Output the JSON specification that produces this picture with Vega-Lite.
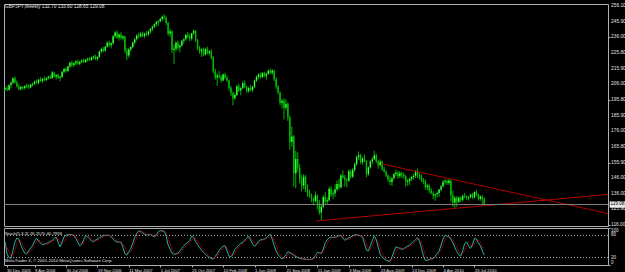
{
"$schema": "https://vega.github.io/schema/vega-lite/v6.json",
"background": "#000000",
"padding": {"left": 2, "top": 2, "right": 0, "bottom": 0},
"spacing": 2,
"bounds": "flush",
"config": {
  "view": {"stroke": "#b0b0b0", "strokeWidth": 1},
  "axis": {"labelColor": "#e0e0e0", "labelFont": "Liberation Sans", "labelFontSize": 4.8, "tickColor": "#b0b0b0", "tickSize": 2, "domain": false, "grid": false, "labelPadding": 1, "labelOverlap": false},
  "scale": {"continuousPadding": 0},
  "text": {"font": "Liberation Sans"}
},
"datasets": {
"bars": [
{"d":"2005-12-25","o":203.0,"h":204.5,"l":201.8,"c":203.5,"k":62,"s":55},
{"d":"2006-01-01","o":203.5,"h":205.0,"l":201.5,"c":202.3,"k":30,"s":46},
{"d":"2006-01-08","o":202.3,"h":206.0,"l":202.0,"c":205.5,"k":20,"s":37},
{"d":"2006-01-15","o":205.5,"h":208.0,"l":203.5,"c":207.0,"k":18,"s":23},
{"d":"2006-01-22","o":207.0,"h":210.5,"l":206.0,"c":209.8,"k":40,"s":26},
{"d":"2006-01-29","o":209.8,"h":211.0,"l":206.5,"c":207.2,"k":62,"s":40},
{"d":"2006-02-05","o":207.2,"h":208.5,"l":204.0,"c":204.8,"k":73,"s":58},
{"d":"2006-02-12","o":204.8,"h":206.0,"l":202.0,"c":203.0,"k":70,"s":68},
{"d":"2006-02-19","o":203.0,"h":205.0,"l":202.0,"c":204.2,"k":54,"s":66},
{"d":"2006-02-26","o":204.2,"h":205.0,"l":202.5,"c":203.6,"k":42,"s":55},
{"d":"2006-03-05","o":203.6,"h":205.5,"l":202.5,"c":204.8,"k":32,"s":43},
{"d":"2006-03-12","o":204.8,"h":206.5,"l":203.5,"c":205.2,"k":30,"s":35},
{"d":"2006-03-19","o":205.2,"h":206.0,"l":203.0,"c":204.0,"k":38,"s":33},
{"d":"2006-03-26","o":204.0,"h":206.2,"l":203.5,"c":205.9,"k":46,"s":38},
{"d":"2006-04-02","o":205.9,"h":207.0,"l":204.5,"c":206.5,"k":53,"s":46},
{"d":"2006-04-09","o":206.5,"h":208.5,"l":205.5,"c":207.8,"k":65,"s":55},
{"d":"2006-04-16","o":207.8,"h":209.0,"l":206.0,"c":206.9,"k":72,"s":63},
{"d":"2006-04-23","o":206.9,"h":209.5,"l":206.0,"c":209.0,"k":65,"s":67},
{"d":"2006-04-30","o":209.0,"h":210.5,"l":207.5,"c":208.2,"k":59,"s":65},
{"d":"2006-05-07","o":208.2,"h":210.0,"l":207.0,"c":209.5,"k":55,"s":60},
{"d":"2006-05-14","o":209.5,"h":211.0,"l":207.8,"c":208.7,"k":56,"s":57},
{"d":"2006-05-21","o":208.7,"h":210.5,"l":208.0,"c":210.0,"k":58,"s":56},
{"d":"2006-05-28","o":210.0,"h":211.5,"l":209.0,"c":210.8,"k":61,"s":58},
{"d":"2006-06-04","o":210.8,"h":212.0,"l":209.5,"c":209.9,"k":63,"s":61},
{"d":"2006-06-11","o":209.9,"h":214.5,"l":209.5,"c":213.6,"k":67,"s":64},
{"d":"2006-06-18","o":213.6,"h":214.0,"l":210.5,"c":211.0,"k":72,"s":67},
{"d":"2006-06-25","o":211.0,"h":212.5,"l":209.0,"c":212.0,"k":75,"s":71},
{"d":"2006-07-02","o":212.0,"h":213.0,"l":209.5,"c":210.2,"k":62,"s":70},
{"d":"2006-07-09","o":210.2,"h":211.5,"l":208.0,"c":210.8,"k":49,"s":62},
{"d":"2006-07-16","o":210.8,"h":214.5,"l":210.0,"c":214.0,"k":62,"s":58},
{"d":"2006-07-23","o":214.0,"h":216.5,"l":213.0,"c":215.8,"k":76,"s":62},
{"d":"2006-07-30","o":215.8,"h":217.0,"l":213.5,"c":214.5,"k":81,"s":73},
{"d":"2006-08-06","o":214.5,"h":218.0,"l":214.0,"c":217.4,"k":82,"s":80},
{"d":"2006-08-13","o":217.4,"h":220.5,"l":216.5,"c":219.8,"k":83,"s":82},
{"d":"2006-08-20","o":219.8,"h":221.0,"l":217.0,"c":218.4,"k":82,"s":82},
{"d":"2006-08-27","o":218.4,"h":220.0,"l":217.0,"c":219.4,"k":80,"s":82},
{"d":"2006-09-03","o":219.4,"h":221.5,"l":218.0,"c":220.6,"k":72,"s":78},
{"d":"2006-09-10","o":220.6,"h":221.8,"l":218.5,"c":219.2,"k":62,"s":71},
{"d":"2006-09-17","o":219.2,"h":221.0,"l":218.0,"c":220.5,"k":52,"s":62},
{"d":"2006-09-24","o":220.5,"h":222.0,"l":219.5,"c":221.3,"k":56,"s":57},
{"d":"2006-10-01","o":221.3,"h":222.5,"l":219.5,"c":220.2,"k":68,"s":59},
{"d":"2006-10-08","o":220.2,"h":222.3,"l":219.8,"c":221.8,"k":80,"s":68},
{"d":"2006-10-15","o":221.8,"h":223.0,"l":220.5,"c":222.4,"k":76,"s":75},
{"d":"2006-10-22","o":222.4,"h":223.5,"l":221.0,"c":221.6,"k":71,"s":76},
{"d":"2006-10-29","o":221.6,"h":223.8,"l":221.0,"c":223.2,"k":65,"s":71},
{"d":"2006-11-05","o":223.2,"h":224.5,"l":222.0,"c":223.8,"k":63,"s":66},
{"d":"2006-11-12","o":223.8,"h":225.0,"l":221.5,"c":222.2,"k":67,"s":65},
{"d":"2006-11-19","o":222.2,"h":224.0,"l":221.0,"c":223.5,"k":70,"s":67},
{"d":"2006-11-26","o":223.5,"h":227.5,"l":223.0,"c":227.0,"k":74,"s":70},
{"d":"2006-12-03","o":227.0,"h":229.5,"l":226.0,"c":228.6,"k":77,"s":74},
{"d":"2006-12-10","o":228.6,"h":230.0,"l":226.5,"c":227.4,"k":80,"s":77},
{"d":"2006-12-17","o":227.4,"h":230.5,"l":227.0,"c":230.0,"k":80,"s":79},
{"d":"2006-12-24","o":230.0,"h":233.5,"l":229.5,"c":232.6,"k":80,"s":80},
{"d":"2006-12-31","o":232.6,"h":234.0,"l":230.0,"c":231.0,"k":80,"s":80},
{"d":"2007-01-07","o":231.0,"h":233.0,"l":229.0,"c":232.2,"k":76,"s":79},
{"d":"2007-01-14","o":232.2,"h":237.5,"l":231.5,"c":236.8,"k":70,"s":75},
{"d":"2007-01-21","o":236.8,"h":240.0,"l":235.5,"c":239.2,"k":65,"s":70},
{"d":"2007-01-28","o":239.2,"h":240.5,"l":235.0,"c":236.0,"k":62,"s":66},
{"d":"2007-02-04","o":236.0,"h":238.5,"l":234.0,"c":237.8,"k":62,"s":63},
{"d":"2007-02-11","o":237.8,"h":239.5,"l":234.5,"c":235.4,"k":62,"s":62},
{"d":"2007-02-18","o":235.4,"h":237.5,"l":234.0,"c":236.6,"k":48,"s":57},
{"d":"2007-02-25","o":236.6,"h":237.0,"l":226.0,"c":227.5,"k":30,"s":47},
{"d":"2007-03-04","o":227.5,"h":229.0,"l":221.5,"c":224.5,"k":27,"s":35},
{"d":"2007-03-11","o":224.5,"h":229.5,"l":223.0,"c":228.4,"k":36,"s":31},
{"d":"2007-03-18","o":228.4,"h":230.5,"l":227.0,"c":229.8,"k":45,"s":36},
{"d":"2007-03-25","o":229.8,"h":233.5,"l":229.0,"c":232.8,"k":59,"s":47},
{"d":"2007-04-01","o":232.8,"h":235.5,"l":231.5,"c":234.9,"k":75,"s":60},
{"d":"2007-04-08","o":234.9,"h":238.0,"l":234.0,"c":237.2,"k":86,"s":73},
{"d":"2007-04-15","o":237.2,"h":239.0,"l":235.5,"c":236.6,"k":92,"s":84},
{"d":"2007-04-22","o":236.6,"h":239.5,"l":236.0,"c":238.4,"k":91,"s":90},
{"d":"2007-04-29","o":238.4,"h":239.8,"l":236.0,"c":237.0,"k":87,"s":90},
{"d":"2007-05-06","o":237.0,"h":239.0,"l":235.5,"c":238.6,"k":83,"s":87},
{"d":"2007-05-13","o":238.6,"h":240.0,"l":237.0,"c":237.9,"k":81,"s":84},
{"d":"2007-05-20","o":237.9,"h":240.5,"l":237.0,"c":239.8,"k":82,"s":82},
{"d":"2007-05-27","o":239.8,"h":242.0,"l":238.5,"c":241.5,"k":83,"s":82},
{"d":"2007-06-03","o":241.5,"h":243.5,"l":240.0,"c":242.8,"k":79,"s":81},
{"d":"2007-06-10","o":242.8,"h":245.0,"l":242.0,"c":244.4,"k":76,"s":79},
{"d":"2007-06-17","o":244.4,"h":246.5,"l":243.0,"c":245.9,"k":82,"s":79},
{"d":"2007-06-24","o":245.9,"h":247.0,"l":243.5,"c":246.5,"k":90,"s":83},
{"d":"2007-07-01","o":246.5,"h":248.5,"l":245.5,"c":247.8,"k":93,"s":88},
{"d":"2007-07-08","o":247.8,"h":250.0,"l":246.5,"c":249.2,"k":92,"s":92},
{"d":"2007-07-15","o":249.2,"h":251.0,"l":247.5,"c":248.4,"k":91,"s":92},
{"d":"2007-07-22","o":248.4,"h":250.0,"l":244.0,"c":245.2,"k":78,"s":87},
{"d":"2007-07-29","o":245.2,"h":246.0,"l":237.0,"c":238.4,"k":54,"s":74},
{"d":"2007-08-05","o":238.4,"h":241.5,"l":236.5,"c":240.0,"k":43,"s":58},
{"d":"2007-08-12","o":240.0,"h":240.5,"l":226.0,"c":228.0,"k":32,"s":43},
{"d":"2007-08-19","o":228.0,"h":231.5,"l":219.0,"c":228.8,"k":29,"s":35},
{"d":"2007-08-26","o":228.8,"h":233.5,"l":227.0,"c":232.6,"k":30,"s":30},
{"d":"2007-09-02","o":232.6,"h":234.0,"l":228.0,"c":229.5,"k":32,"s":30},
{"d":"2007-09-09","o":229.5,"h":231.5,"l":226.5,"c":230.8,"k":38,"s":33},
{"d":"2007-09-16","o":230.8,"h":234.5,"l":230.0,"c":233.9,"k":45,"s":38},
{"d":"2007-09-23","o":233.9,"h":235.5,"l":232.0,"c":234.8,"k":52,"s":45},
{"d":"2007-09-30","o":234.8,"h":238.5,"l":234.0,"c":237.6,"k":57,"s":51},
{"d":"2007-10-07","o":237.6,"h":239.5,"l":235.5,"c":236.4,"k":61,"s":57},
{"d":"2007-10-14","o":236.4,"h":238.5,"l":233.5,"c":235.2,"k":66,"s":61},
{"d":"2007-10-21","o":235.2,"h":239.0,"l":234.0,"c":238.6,"k":78,"s":68},
{"d":"2007-10-28","o":238.6,"h":241.0,"l":237.5,"c":240.2,"k":75,"s":73},
{"d":"2007-11-04","o":240.2,"h":240.8,"l":233.0,"c":234.2,"k":63,"s":72},
{"d":"2007-11-11","o":234.2,"h":235.0,"l":228.0,"c":229.0,"k":55,"s":64},
{"d":"2007-11-18","o":229.0,"h":230.5,"l":225.5,"c":227.2,"k":47,"s":55},
{"d":"2007-11-25","o":227.2,"h":229.0,"l":223.5,"c":228.4,"k":40,"s":47},
{"d":"2007-12-02","o":228.4,"h":229.5,"l":224.0,"c":225.0,"k":34,"s":40},
{"d":"2007-12-09","o":225.0,"h":229.5,"l":224.5,"c":228.6,"k":29,"s":34},
{"d":"2007-12-16","o":228.6,"h":230.0,"l":225.0,"c":226.0,"k":24,"s":29},
{"d":"2007-12-23","o":226.0,"h":228.0,"l":224.5,"c":227.0,"k":20,"s":24},
{"d":"2007-12-30","o":227.0,"h":228.5,"l":222.0,"c":223.0,"k":17,"s":20},
{"d":"2008-01-06","o":223.0,"h":224.0,"l":213.0,"c":214.2,"k":16,"s":18},
{"d":"2008-01-13","o":214.2,"h":216.0,"l":209.0,"c":210.4,"k":23,"s":19},
{"d":"2008-01-20","o":210.4,"h":213.0,"l":205.0,"c":211.6,"k":31,"s":23},
{"d":"2008-01-27","o":211.6,"h":214.5,"l":209.5,"c":210.8,"k":39,"s":31},
{"d":"2008-02-03","o":210.8,"h":212.0,"l":207.0,"c":208.5,"k":46,"s":39},
{"d":"2008-02-10","o":208.5,"h":213.0,"l":208.0,"c":212.2,"k":51,"s":45},
{"d":"2008-02-17","o":212.2,"h":213.5,"l":209.5,"c":210.2,"k":52,"s":50},
{"d":"2008-02-24","o":210.2,"h":211.5,"l":207.5,"c":208.4,"k":38,"s":47},
{"d":"2008-03-02","o":208.4,"h":209.0,"l":202.0,"c":203.6,"k":24,"s":38},
{"d":"2008-03-09","o":203.6,"h":205.0,"l":198.5,"c":200.2,"k":22,"s":28},
{"d":"2008-03-16","o":200.2,"h":201.5,"l":192.5,"c":197.0,"k":30,"s":25},
{"d":"2008-03-23","o":197.0,"h":200.5,"l":196.0,"c":199.2,"k":42,"s":31},
{"d":"2008-03-30","o":199.2,"h":205.5,"l":198.5,"c":204.8,"k":48,"s":40},
{"d":"2008-04-06","o":204.8,"h":206.5,"l":201.0,"c":202.0,"k":53,"s":48},
{"d":"2008-04-13","o":202.0,"h":204.5,"l":199.0,"c":203.5,"k":59,"s":53},
{"d":"2008-04-20","o":203.5,"h":208.0,"l":203.0,"c":206.9,"k":62,"s":58},
{"d":"2008-04-27","o":206.9,"h":208.5,"l":203.5,"c":204.4,"k":67,"s":63},
{"d":"2008-05-04","o":204.4,"h":205.0,"l":200.5,"c":201.6,"k":72,"s":67},
{"d":"2008-05-11","o":201.6,"h":204.5,"l":200.5,"c":203.6,"k":78,"s":72},
{"d":"2008-05-18","o":203.6,"h":205.5,"l":201.5,"c":202.4,"k":68,"s":73},
{"d":"2008-05-25","o":202.4,"h":205.0,"l":201.0,"c":204.6,"k":56,"s":67},
{"d":"2008-06-01","o":204.6,"h":209.0,"l":203.5,"c":208.4,"k":50,"s":58},
{"d":"2008-06-08","o":208.4,"h":211.5,"l":207.5,"c":210.8,"k":56,"s":54},
{"d":"2008-06-15","o":210.8,"h":213.0,"l":209.0,"c":212.2,"k":64,"s":57},
{"d":"2008-06-22","o":212.2,"h":213.5,"l":209.5,"c":210.6,"k":68,"s":63},
{"d":"2008-06-29","o":210.6,"h":214.0,"l":210.0,"c":213.2,"k":69,"s":67},
{"d":"2008-07-06","o":213.2,"h":214.0,"l":210.5,"c":211.4,"k":70,"s":69},
{"d":"2008-07-13","o":211.4,"h":213.5,"l":209.0,"c":212.8,"k":74,"s":71},
{"d":"2008-07-20","o":212.8,"h":215.5,"l":212.0,"c":214.6,"k":79,"s":74},
{"d":"2008-07-27","o":214.6,"h":216.0,"l":212.5,"c":213.4,"k":83,"s":79},
{"d":"2008-08-03","o":213.4,"h":215.8,"l":212.0,"c":214.8,"k":70,"s":77},
{"d":"2008-08-10","o":214.8,"h":215.0,"l":208.0,"c":209.2,"k":52,"s":68},
{"d":"2008-08-17","o":209.2,"h":210.5,"l":203.0,"c":204.6,"k":38,"s":53},
{"d":"2008-08-24","o":204.6,"h":205.5,"l":199.5,"c":200.8,"k":28,"s":39},
{"d":"2008-08-31","o":200.8,"h":201.5,"l":192.5,"c":194.2,"k":22,"s":29},
{"d":"2008-09-07","o":194.2,"h":196.5,"l":190.5,"c":195.4,"k":16,"s":22},
{"d":"2008-09-14","o":195.4,"h":197.0,"l":183.5,"c":191.0,"k":20,"s":19},
{"d":"2008-09-21","o":191.0,"h":196.5,"l":189.5,"c":193.6,"k":28,"s":21},
{"d":"2008-09-28","o":193.6,"h":194.5,"l":182.5,"c":184.8,"k":36,"s":28},
{"d":"2008-10-05","o":184.8,"h":186.0,"l":164.0,"c":169.0,"k":33,"s":32},
{"d":"2008-10-12","o":169.0,"h":179.0,"l":166.0,"c":172.6,"k":30,"s":33},
{"d":"2008-10-19","o":172.6,"h":173.5,"l":140.5,"c":149.0,"k":26,"s":30},
{"d":"2008-10-26","o":149.0,"h":163.5,"l":139.5,"c":158.2,"k":23,"s":26},
{"d":"2008-11-02","o":158.2,"h":162.5,"l":150.0,"c":152.4,"k":20,"s":23},
{"d":"2008-11-09","o":152.4,"h":155.0,"l":142.5,"c":145.0,"k":18,"s":20},
{"d":"2008-11-16","o":145.0,"h":148.0,"l":137.5,"c":141.2,"k":17,"s":18},
{"d":"2008-11-23","o":141.2,"h":148.5,"l":139.0,"c":146.8,"k":16,"s":17},
{"d":"2008-11-30","o":146.8,"h":148.0,"l":137.0,"c":138.8,"k":15,"s":16},
{"d":"2008-12-07","o":138.8,"h":142.0,"l":134.0,"c":136.4,"k":15,"s":15},
{"d":"2008-12-14","o":136.4,"h":138.5,"l":133.5,"c":135.0,"k":15,"s":15},
{"d":"2008-12-21","o":135.0,"h":136.0,"l":130.5,"c":132.8,"k":15,"s":15},
{"d":"2008-12-28","o":132.8,"h":133.5,"l":128.5,"c":131.4,"k":18,"s":16},
{"d":"2009-01-04","o":131.4,"h":137.5,"l":130.5,"c":134.8,"k":26,"s":20},
{"d":"2009-01-11","o":134.8,"h":135.5,"l":126.0,"c":130.2,"k":34,"s":26},
{"d":"2009-01-18","o":130.2,"h":132.0,"l":122.5,"c":124.0,"k":33,"s":31},
{"d":"2009-01-25","o":124.0,"h":129.0,"l":118.9,"c":127.6,"k":31,"s":33},
{"d":"2009-02-01","o":127.6,"h":135.0,"l":126.5,"c":133.8,"k":42,"s":35},
{"d":"2009-02-08","o":133.8,"h":137.0,"l":129.5,"c":131.0,"k":60,"s":44},
{"d":"2009-02-15","o":131.0,"h":133.5,"l":129.0,"c":131.8,"k":68,"s":57},
{"d":"2009-02-22","o":131.8,"h":140.5,"l":131.0,"c":139.2,"k":74,"s":67},
{"d":"2009-03-01","o":139.2,"h":141.0,"l":134.0,"c":135.6,"k":75,"s":72},
{"d":"2009-03-08","o":135.6,"h":138.0,"l":132.5,"c":136.2,"k":75,"s":75},
{"d":"2009-03-15","o":136.2,"h":142.0,"l":134.0,"c":138.8,"k":75,"s":75},
{"d":"2009-03-22","o":138.8,"h":144.5,"l":137.5,"c":142.2,"k":77,"s":76},
{"d":"2009-03-29","o":142.2,"h":145.5,"l":138.5,"c":140.0,"k":79,"s":77},
{"d":"2009-04-05","o":140.0,"h":148.5,"l":139.5,"c":147.6,"k":80,"s":79},
{"d":"2009-04-12","o":147.6,"h":151.0,"l":145.5,"c":146.4,"k":72,"s":77},
{"d":"2009-04-19","o":146.4,"h":148.0,"l":140.5,"c":144.8,"k":67,"s":73},
{"d":"2009-04-26","o":144.8,"h":146.0,"l":140.0,"c":144.2,"k":70,"s":70},
{"d":"2009-05-03","o":144.2,"h":151.5,"l":143.5,"c":150.4,"k":73,"s":70},
{"d":"2009-05-10","o":150.4,"h":151.5,"l":145.5,"c":146.8,"k":76,"s":73},
{"d":"2009-05-17","o":146.8,"h":152.5,"l":146.0,"c":151.2,"k":79,"s":76},
{"d":"2009-05-24","o":151.2,"h":156.0,"l":150.0,"c":154.8,"k":82,"s":79},
{"d":"2009-05-31","o":154.8,"h":160.5,"l":154.0,"c":159.4,"k":82,"s":81},
{"d":"2009-06-07","o":159.4,"h":163.0,"l":157.5,"c":160.6,"k":80,"s":81},
{"d":"2009-06-14","o":160.6,"h":161.5,"l":155.0,"c":156.2,"k":78,"s":80},
{"d":"2009-06-21","o":156.2,"h":159.5,"l":154.5,"c":158.4,"k":75,"s":78},
{"d":"2009-06-28","o":158.4,"h":161.0,"l":156.0,"c":157.0,"k":58,"s":70},
{"d":"2009-07-05","o":157.0,"h":157.5,"l":146.5,"c":148.6,"k":40,"s":58},
{"d":"2009-07-12","o":148.6,"h":153.5,"l":147.5,"c":152.8,"k":38,"s":45},
{"d":"2009-07-19","o":152.8,"h":157.5,"l":152.0,"c":156.6,"k":52,"s":43},
{"d":"2009-07-26","o":156.6,"h":159.5,"l":155.0,"c":158.0,"k":66,"s":52},
{"d":"2009-08-02","o":158.0,"h":163.5,"l":157.5,"c":160.6,"k":79,"s":66},
{"d":"2009-08-09","o":160.6,"h":161.5,"l":155.5,"c":156.8,"k":68,"s":71},
{"d":"2009-08-16","o":156.8,"h":157.5,"l":152.0,"c":154.2,"k":48,"s":65},
{"d":"2009-08-23","o":154.2,"h":158.0,"l":153.5,"c":156.4,"k":28,"s":48},
{"d":"2009-08-30","o":156.4,"h":157.0,"l":150.5,"c":151.4,"k":22,"s":33},
{"d":"2009-09-06","o":151.4,"h":153.5,"l":149.5,"c":150.0,"k":16,"s":22},
{"d":"2009-09-13","o":150.0,"h":151.0,"l":146.5,"c":147.6,"k":13,"s":17},
{"d":"2009-09-20","o":147.6,"h":148.5,"l":143.5,"c":145.0,"k":11,"s":13},
{"d":"2009-09-27","o":145.0,"h":147.0,"l":141.5,"c":143.4,"k":10,"s":11},
{"d":"2009-10-04","o":143.4,"h":146.5,"l":141.0,"c":145.8,"k":22,"s":14},
{"d":"2009-10-11","o":145.8,"h":149.5,"l":145.0,"c":148.6,"k":36,"s":23},
{"d":"2009-10-18","o":148.6,"h":151.5,"l":147.0,"c":149.4,"k":49,"s":36},
{"d":"2009-10-25","o":149.4,"h":150.5,"l":145.5,"c":147.2,"k":47,"s":44},
{"d":"2009-11-01","o":147.2,"h":150.5,"l":146.0,"c":149.0,"k":45,"s":47},
{"d":"2009-11-08","o":149.0,"h":150.0,"l":146.0,"c":148.2,"k":42,"s":45},
{"d":"2009-11-15","o":148.2,"h":149.5,"l":145.5,"c":147.2,"k":44,"s":44},
{"d":"2009-11-22","o":147.2,"h":148.0,"l":140.5,"c":143.6,"k":48,"s":45},
{"d":"2009-11-29","o":143.6,"h":145.5,"l":141.0,"c":144.2,"k":51,"s":48},
{"d":"2009-12-06","o":144.2,"h":146.5,"l":141.5,"c":145.4,"k":54,"s":51},
{"d":"2009-12-13","o":145.4,"h":147.5,"l":144.0,"c":146.6,"k":59,"s":55},
{"d":"2009-12-20","o":146.6,"h":148.5,"l":145.0,"c":147.4,"k":64,"s":59},
{"d":"2009-12-27","o":147.4,"h":151.0,"l":146.0,"c":150.2,"k":69,"s":64},
{"d":"2010-01-03","o":150.2,"h":152.0,"l":146.0,"c":148.0,"k":74,"s":69},
{"d":"2010-01-10","o":148.0,"h":149.5,"l":145.0,"c":147.2,"k":65,"s":69},
{"d":"2010-01-17","o":147.2,"h":148.5,"l":143.5,"c":145.0,"k":45,"s":61},
{"d":"2010-01-24","o":145.0,"h":146.0,"l":142.0,"c":143.6,"k":24,"s":45},
{"d":"2010-01-31","o":143.6,"h":145.0,"l":138.5,"c":140.2,"k":12,"s":27},
{"d":"2010-02-07","o":140.2,"h":142.5,"l":138.0,"c":141.2,"k":13,"s":16},
{"d":"2010-02-14","o":141.2,"h":142.0,"l":136.5,"c":138.0,"k":15,"s":13},
{"d":"2010-02-21","o":138.0,"h":139.5,"l":135.5,"c":136.2,"k":17,"s":15},
{"d":"2010-02-28","o":136.2,"h":137.5,"l":132.5,"c":134.8,"k":18,"s":17},
{"d":"2010-03-07","o":134.8,"h":136.0,"l":131.5,"c":135.6,"k":24,"s":20},
{"d":"2010-03-14","o":135.6,"h":137.5,"l":133.5,"c":136.4,"k":31,"s":24},
{"d":"2010-03-21","o":136.4,"h":139.0,"l":134.0,"c":138.6,"k":38,"s":31},
{"d":"2010-03-28","o":138.6,"h":141.5,"l":137.5,"c":140.8,"k":54,"s":41},
{"d":"2010-04-04","o":140.8,"h":144.5,"l":140.0,"c":143.6,"k":70,"s":54},
{"d":"2010-04-11","o":143.6,"h":145.5,"l":142.0,"c":144.2,"k":80,"s":68},
{"d":"2010-04-18","o":144.2,"h":145.0,"l":141.5,"c":142.8,"k":78,"s":76},
{"d":"2010-04-25","o":142.8,"h":145.5,"l":141.5,"c":144.4,"k":76,"s":78},
{"d":"2010-05-02","o":144.4,"h":145.0,"l":131.0,"c":135.0,"k":70,"s":75},
{"d":"2010-05-09","o":135.0,"h":138.0,"l":127.5,"c":130.2,"k":60,"s":69},
{"d":"2010-05-16","o":130.2,"h":134.5,"l":126.5,"c":133.4,"k":48,"s":59},
{"d":"2010-05-23","o":133.4,"h":134.5,"l":127.5,"c":130.8,"k":36,"s":48},
{"d":"2010-05-30","o":130.8,"h":134.0,"l":130.0,"c":133.6,"k":28,"s":37},
{"d":"2010-06-06","o":133.6,"h":134.5,"l":130.5,"c":132.0,"k":24,"s":29},
{"d":"2010-06-13","o":132.0,"h":135.5,"l":131.0,"c":134.6,"k":38,"s":30},
{"d":"2010-06-20","o":134.6,"h":136.5,"l":133.0,"c":134.0,"k":58,"s":40},
{"d":"2010-06-27","o":134.0,"h":135.0,"l":132.0,"c":133.2,"k":62,"s":53},
{"d":"2010-07-04","o":133.2,"h":134.5,"l":131.5,"c":134.0,"k":52,"s":57},
{"d":"2010-07-11","o":134.0,"h":136.0,"l":133.0,"c":135.4,"k":45,"s":53},
{"d":"2010-07-18","o":135.4,"h":136.5,"l":132.5,"c":133.6,"k":55,"s":51},
{"d":"2010-07-25","o":133.6,"h":137.5,"l":133.0,"c":137.0,"k":72,"s":57},
{"d":"2010-08-01","o":137.0,"h":138.5,"l":134.5,"c":135.4,"k":70,"s":66},
{"d":"2010-08-08","o":135.4,"h":136.0,"l":131.5,"c":132.6,"k":60,"s":67},
{"d":"2010-08-15","o":132.6,"h":135.0,"l":131.5,"c":134.2,"k":52,"s":61},
{"d":"2010-08-22","o":134.2,"h":135.0,"l":128.5,"c":132.7,"k":38,"s":50},
{"d":"2010-08-29","o":132.7,"h":133.6,"l":128.65,"c":129.08,"k":26.257,"s":40.7959}
],
"trend": [
{"d":"2009-08-26","p":155.2,"g":"a"},
{"d":"2011-11-13","p":123.3,"g":"a"},
{"d":"2009-01-06","p":118.5,"g":"b"},
{"d":"2011-11-13","p":135.5,"g":"b"}
],
"priceTicks": [
{"v":256.1,"t":"256.10"},{"v":245.9,"t":"245.90"},{"v":236.0,"t":"236.00"},{"v":225.8,"t":"225.80"},{"v":215.9,"t":"215.90"},
{"v":206.0,"t":"206.00"},{"v":195.8,"t":"195.80"},{"v":185.9,"t":"185.90"},{"v":176.0,"t":"176.00"},{"v":165.8,"t":"165.80"},
{"v":155.9,"t":"155.90"},{"v":146.0,"t":"146.00"},{"v":136.0,"t":"136.00"},{"v":125.9,"t":"125.90"},{"v":116.0,"t":"116.00"}
]
},
"vconcat": [
{
  "width": 604,
  "height": 222,
  "layer": [
    {
      "data": {"name": "bars"},
      "mark": {"type": "rule", "strokeWidth": 1, "color": "#00b000"},
      "encoding": {
        "x": {"field": "d", "type": "temporal", "scale": {"type": "utc", "padding": 0, "nice": false, "domain": [{"year": 2005, "month": 12, "date": 21, "utc": true}, {"year": 2011, "month": 11, "date": 13, "utc": true}]}, "axis": null},
        "y": {"field": "l", "type": "quantitative", "title": null, "scale": {"domain": [115.3, 257.4], "zero": false, "nice": false, "padding": 0}, "axis": {"orient": "right", "values": [256.1, 245.9, 236.0, 225.8, 215.9, 206.0, 195.8, 185.9, 176.0, 165.8, 155.9, 146.0, 136.0, 125.9, 116.0], "labels": false}},
        "y2": {"field": "h"}
      }
    },
    {
      "data": {"name": "bars"},
      "mark": {"type": "bar", "size": 1.4},
      "encoding": {
        "x": {"field": "d", "type": "temporal"},
        "y": {"field": "o", "type": "quantitative", "title": null},
        "y2": {"field": "c"},
        "color": {"condition": {"test": "datum.c >= datum.o", "value": "#40ff40"}, "value": "#00c000"}
      }
    },
    {
      "data": {"name": "trend"},
      "mark": {"type": "line", "color": "#b00000", "strokeWidth": 1},
      "encoding": {
        "x": {"field": "d", "type": "temporal"},
        "y": {"field": "p", "type": "quantitative", "title": null},
        "detail": {"field": "g"}
      }
    },
    {
      "data": {"values": [{"bid": 129.08}]},
      "mark": {"type": "rule", "color": "#808080", "strokeWidth": 1},
      "encoding": {"y": {"field": "bid", "type": "quantitative", "title": null}}
    },
    {
      "data": {"name": "priceTicks"},
      "mark": {"type": "text", "align": "left", "baseline": "middle", "fontSize": 4.8, "color": "#e0e0e0"},
      "encoding": {
        "x": {"datum": {"year": 2011, "month": 11, "date": 24, "utc": true}, "type": "temporal"},
        "y": {"field": "v", "type": "quantitative", "title": null},
        "text": {"field": "t"}
      }
    },
    {
      "data": {"values": [{"bid": 129.08, "lo": 127.2, "hi": 130.95}]},
      "mark": {"type": "rect", "fill": "#e8e8e8", "stroke": "#ffffff", "strokeWidth": 0.5},
      "encoding": {
        "x": {"datum": {"year": 2011, "month": 11, "date": 20, "utc": true}, "type": "temporal"},
        "x2": {"datum": {"year": 2012, "month": 1, "date": 12, "utc": true}},
        "y": {"field": "lo", "type": "quantitative", "title": null},
        "y2": {"field": "hi"}
      }
    },
    {
      "data": {"values": [{"t": "129.08", "bid": 129.08}]},
      "mark": {"type": "text", "align": "left", "baseline": "middle", "fontSize": 4.5, "color": "#000000"},
      "encoding": {
        "x": {"datum": {"year": 2011, "month": 11, "date": 22, "utc": true}, "type": "temporal"},
        "y": {"field": "bid", "type": "quantitative", "title": null},
        "text": {"field": "t"}
      }
    },
    {
      "data": {"values": [{"t": "GBPJPY,Weekly  132.70 133.60 128.65 129.08"}]},
      "mark": {"type": "text", "align": "left", "baseline": "middle", "fontSize": 4.8, "color": "#e0e0e0"},
      "encoding": {
        "x": {"datum": {"year": 2005, "month": 12, "date": 25, "utc": true}, "type": "temporal"},
        "y": {"datum": 255.5, "type": "quantitative", "title": null},
        "text": {"field": "t"}
      }
    }
  ]
},
{
  "width": 604,
  "height": 37,
  "layer": [
    {
      "data": {"values": [{"v": 20}, {"v": 80}]},
      "mark": {"type": "rule", "color": "#b0b0b0", "strokeDash": [1, 2], "strokeWidth": 1},
      "encoding": {"y": {"field": "v", "type": "quantitative", "title": null}}
    },
    {
      "data": {"name": "bars"},
      "mark": {"type": "line", "color": "#20b2aa", "strokeWidth": 1},
      "encoding": {
        "x": {"field": "d", "type": "temporal", "title": null, "scale": {"type": "utc", "padding": 0, "nice": false, "domain": [{"year": 2005, "month": 12, "date": 21, "utc": true}, {"year": 2011, "month": 11, "date": 13, "utc": true}]},
          "axis": {"orient": "bottom", "values": [
            {"year": 2005, "month": 12, "date": 30, "utc": true},
            {"year": 2006, "month": 4, "date": 9, "utc": true},
            {"year": 2006, "month": 7, "date": 30, "utc": true},
            {"year": 2006, "month": 11, "date": 19, "utc": true},
            {"year": 2007, "month": 3, "date": 11, "utc": true},
            {"year": 2007, "month": 7, "date": 1, "utc": true},
            {"year": 2007, "month": 10, "date": 21, "utc": true},
            {"year": 2008, "month": 2, "date": 10, "utc": true},
            {"year": 2008, "month": 6, "date": 1, "utc": true},
            {"year": 2008, "month": 9, "date": 21, "utc": true},
            {"year": 2009, "month": 1, "date": 11, "utc": true},
            {"year": 2009, "month": 5, "date": 3, "utc": true},
            {"year": 2009, "month": 8, "date": 23, "utc": true},
            {"year": 2009, "month": 12, "date": 13, "utc": true},
            {"year": 2010, "month": 4, "date": 4, "utc": true},
            {"year": 2010, "month": 7, "date": 25, "utc": true}
          ], "labelExpr": "utcFormat(datum.value, '%-d %b %Y')", "labelAlign": "left", "labelBaseline": "top", "labelOverlap": false, "labelFlush": false, "labelBound": false, "labelPadding": 1, "labelFontSize": 4.2}},
        "y": {"field": "k", "type": "quantitative", "title": null, "scale": {"domain": [0, 100], "nice": false, "padding": 0}, "axis": {"orient": "right", "values": [0, 20, 80, 100], "labels": false}}
      }
    },
    {
      "data": {"name": "bars"},
      "mark": {"type": "line", "color": "#ff0000", "strokeWidth": 1, "strokeDash": [1, 1]},
      "encoding": {
        "x": {"field": "d", "type": "temporal"},
        "y": {"field": "s", "type": "quantitative", "title": null}
      }
    },
    {
      "data": {"values": [{"v": 100, "t": "100"}]},
      "mark": {"type": "text", "align": "left", "baseline": "top", "fontSize": 4.5, "color": "#e0e0e0"},
      "encoding": {
        "x": {"datum": {"year": 2011, "month": 11, "date": 24, "utc": true}, "type": "temporal"},
        "y": {"field": "v", "type": "quantitative", "title": null},
        "text": {"field": "t"}
      }
    },
    {
      "data": {"values": [{"v": 80, "t": "80"}, {"v": 20, "t": "20"}]},
      "mark": {"type": "text", "align": "left", "baseline": "middle", "fontSize": 4.5, "color": "#e0e0e0"},
      "encoding": {
        "x": {"datum": {"year": 2011, "month": 11, "date": 24, "utc": true}, "type": "temporal"},
        "y": {"field": "v", "type": "quantitative", "title": null},
        "text": {"field": "t"}
      }
    },
    {
      "data": {"values": [{"v": 0, "t": "0"}]},
      "mark": {"type": "text", "align": "left", "baseline": "bottom", "fontSize": 4.5, "color": "#e0e0e0"},
      "encoding": {
        "x": {"datum": {"year": 2011, "month": 11, "date": 24, "utc": true}, "type": "temporal"},
        "y": {"field": "v", "type": "quantitative", "title": null},
        "text": {"field": "t"}
      }
    },
    {
      "data": {"values": [{"t": "Stoch(5,3,3) 26.2570 40.7959", "v": 84}, {"t": "MetaTrader 4, © 2001-2010 MetaQuotes Software Corp.", "v": 11}]},
      "mark": {"type": "text", "align": "left", "baseline": "middle", "fontSize": 4.3, "color": "#e0e0e0"},
      "encoding": {
        "x": {"datum": {"year": 2005, "month": 12, "date": 25, "utc": true}, "type": "temporal"},
        "y": {"field": "v", "type": "quantitative", "title": null},
        "text": {"field": "t"}
      }
    }
  ]
}
]
}
